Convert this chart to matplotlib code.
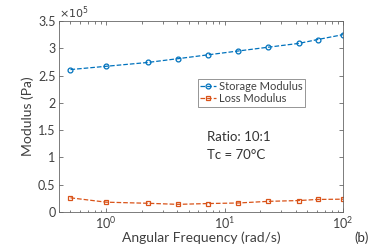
import numpy as np
import matplotlib.pyplot as plt

plt.rcParams['font.family'] = ['Lato', 'DejaVu Sans']

freq = [0.5, 1.0, 2.24, 4.05, 7.25, 13.0, 23.4, 42.5, 61.0, 100.0]
storage = [2.61, 2.67, 2.74, 2.81, 2.88, 2.95, 3.02, 3.09, 3.16, 3.25]
loss = [0.26, 0.18, 0.16, 0.14, 0.155, 0.165, 0.195, 0.21, 0.23, 0.235]

blue = (0.0, 0.447, 0.741)
orange = (0.85, 0.325, 0.098)
axcol = (0.4, 0.4, 0.4)
txtcol = (0.25, 0.25, 0.25)

fig = plt.figure(figsize=(3.74, 2.49), dpi=100)
ax = fig.add_axes([59 / 374, 37 / 249, 284 / 374, 191 / 249])

ax.plot(freq, storage, '--o', color=blue, lw=0.9, ms=3.5, mfc='none', mew=0.9,
        label='Storage Modulus')
ax.plot(freq, loss, '--s', color=orange, lw=0.9, ms=3.2, mfc='none', mew=0.9,
        label='Loss Modulus')

ax.set_xscale('log')
ax.set_xlim(0.4, 100)
ax.set_ylim(0, 3.5)
ax.set_yticks(np.arange(0, 3.51, 0.5))
ax.set_yticklabels(['0', '0.5', '1', '1.5', '2', '2.5', '3', '3.5'])

ax.tick_params(which='both', direction='in', top=True, right=True,
               colors=axcol, labelcolor=txtcol, labelsize=9, width=0.6, pad=2.5)
ax.tick_params(which='major', length=3)
ax.tick_params(which='minor', length=1.8)
for s in ax.spines.values():
    s.set_color(axcol)
    s.set_linewidth(0.6)

ax.set_xlabel('Angular Frequency (rad/s)', fontsize=10, color=txtcol, labelpad=0)
ax.set_ylabel('Modulus (Pa)', fontsize=10, color=txtcol, labelpad=3)

ax.text(0.0, 1.0, r'$\times10^5$', transform=ax.transAxes, fontsize=8,
        color=txtcol, ha='left', va='bottom')

leg = ax.legend(loc='upper left', bbox_to_anchor=(139 / 284, 1 - 58 / 191), fontsize=8,
                frameon=True, fancybox=False, handlelength=1.4, handletextpad=0.3,
                borderpad=0.2, labelspacing=0.1, borderaxespad=0)
leg.get_frame().set_edgecolor(axcol)
leg.get_frame().set_linewidth(0.6)
for t in leg.get_texts():
    t.set_color(txtcol)

ax.text(207 / 374, 1 - 137 / 249, 'Ratio: 10:1', transform=fig.transFigure, fontsize=9.5,
        color=(0.2, 0.2, 0.2), va='center')
ax.text(207 / 374, 1 - 155 / 249, 'Tc = 70°C', transform=fig.transFigure, fontsize=9.5,
        color=(0.2, 0.2, 0.2), va='center')
fig.text(362 / 374, 1 - 238 / 249, '(b)', fontsize=9.5, color=(0.2, 0.2, 0.2),
         ha='center', va='center')

fig.savefig('out.png', dpi=100)
